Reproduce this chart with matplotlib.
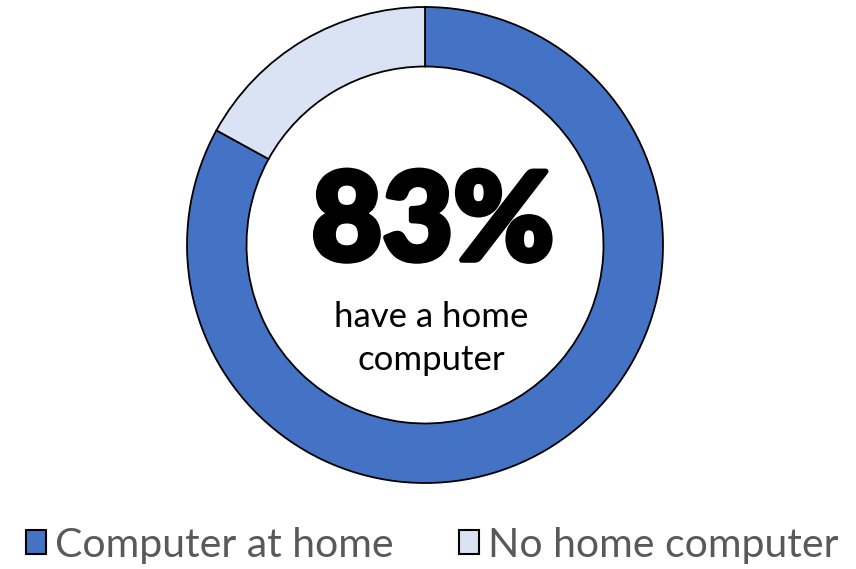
import matplotlib
matplotlib.use("Agg")
import matplotlib.pyplot as plt
from matplotlib.patches import Patch
import matplotlib.patheffects as pe

labels = ["Computer at home", "No home computer"]
values = [83, 17]
colors = ["#4472C4", "#DAE3F3"]
center_big = "83%"
center_small = ["have a home", "computer"]

W, H = 856, 569
fig = plt.figure(figsize=(W / 100, H / 100), dpi=100)
ax = fig.add_axes([0, 0, 1, 1])

cx, cy, R = 425, H - 245, 238
wedges, _ = ax.pie(values, colors=colors, startangle=90, counterclock=False,
                   center=(cx, cy), radius=R, frame=True,
                   wedgeprops=dict(width=R * 0.25, edgecolor="black", linewidth=1.3))
ax.set_xlim(0, W)
ax.set_ylim(0, H)
ax.set_aspect("equal")
ax.axis("off")

font = ["Lato", "DejaVu Sans"]
ax.text(cx + 8, H - 260, center_big, ha="center", va="baseline",
        fontsize=88, fontweight="black", family=font, color="black",
        path_effects=[pe.withStroke(linewidth=4, foreground="black")])
ax.text(cx + 6, H - 327, center_small[0], ha="center", va="baseline",
        fontsize=25, family=font, color="black")
ax.text(cx + 6, H - 370, center_small[1], ha="center", va="baseline",
        fontsize=25, family=font, color="black")

handles = [Patch(facecolor=c, edgecolor="black", linewidth=1.5) for c in colors]
leg = fig.legend(handles, labels, loc="center", bbox_to_anchor=(432 / W, 1 - 545 / H),
                 ncol=2, frameon=False, prop=dict(family=font, size=29.5),
                 handlelength=0.5, handleheight=0.5, handletextpad=0.2,
                 columnspacing=1.6, borderpad=0)
for t in leg.get_texts():
    t.set_color("#595959")

fig.savefig("out.png", dpi=100, facecolor="white")
